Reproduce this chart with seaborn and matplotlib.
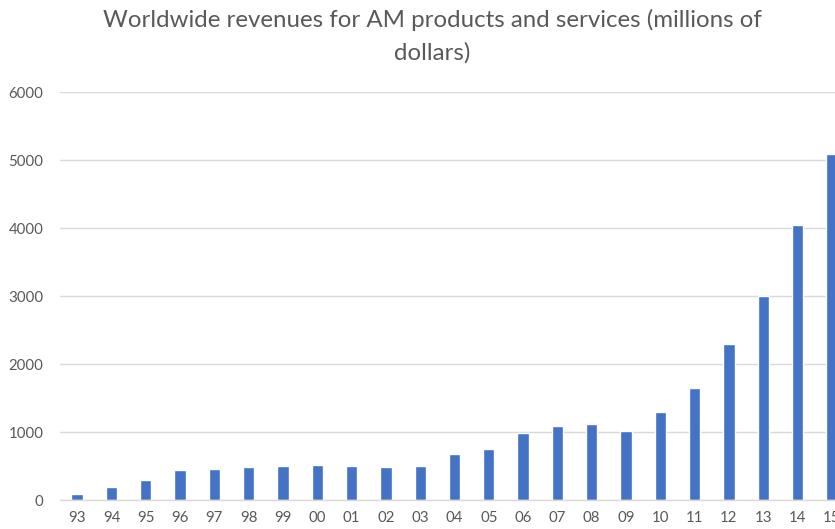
import matplotlib
matplotlib.use("Agg")
import matplotlib.pyplot as plt
import seaborn as sns

# Worldwide revenues for AM products and services, 1993-2015 (millions of USD)
years = ["93", "94", "95", "96", "97", "98", "99", "00", "01", "02", "03", "04",
         "05", "06", "07", "08", "09", "10", "11", "12", "13", "14", "15"]
revenue = [90, 190, 295, 440, 455, 485, 500, 520, 500, 485, 500, 670,
           750, 980, 1095, 1115, 1020, 1300, 1650, 2290, 3000, 4040, 5090]
y_ticks = [0, 1000, 2000, 3000, 4000, 5000, 6000]

title = "Worldwide revenues for AM products and services (millions of\ndollars)"

sns.set_theme(style="white")
plt.rcParams["font.family"] = ["Lato", "DejaVu Sans"]

grey = "#595959"
grid = "#D9D9D9"

fig = plt.figure(figsize=(8.35, 5.29), dpi=100)
ax = fig.add_axes([60 / 835, 29 / 529, 789 / 835, 408 / 529])

sns.barplot(x=years, y=revenue, color="#4472C4", saturation=1, width=0.33, ax=ax)

ax.set_ylim(0, 6000)
ax.set_xlim(-0.5, len(years) - 0.5)
ax.set_yticks(y_ticks)
ax.set_yticklabels([str(t) for t in y_ticks])
ax.yaxis.grid(True, color=grid, linewidth=1.0)
ax.set_axisbelow(True)
for side in ["top", "right", "left"]:
    ax.spines[side].set_visible(False)
ax.spines["bottom"].set_color(grid)
ax.spines["bottom"].set_linewidth(1.0)
ax.tick_params(axis="both", length=0, colors=grey, labelsize=10.8)
ax.tick_params(axis="y", pad=12)
ax.tick_params(axis="x", pad=8)
ax.set_xlabel("")
ax.set_ylabel("")

fig.text(432 / 835, 1 - 9 / 529, title, ha="center", va="top",
         color=grey, fontsize=17.3, linespacing=1.6)

fig.savefig("out.png", dpi=100)
